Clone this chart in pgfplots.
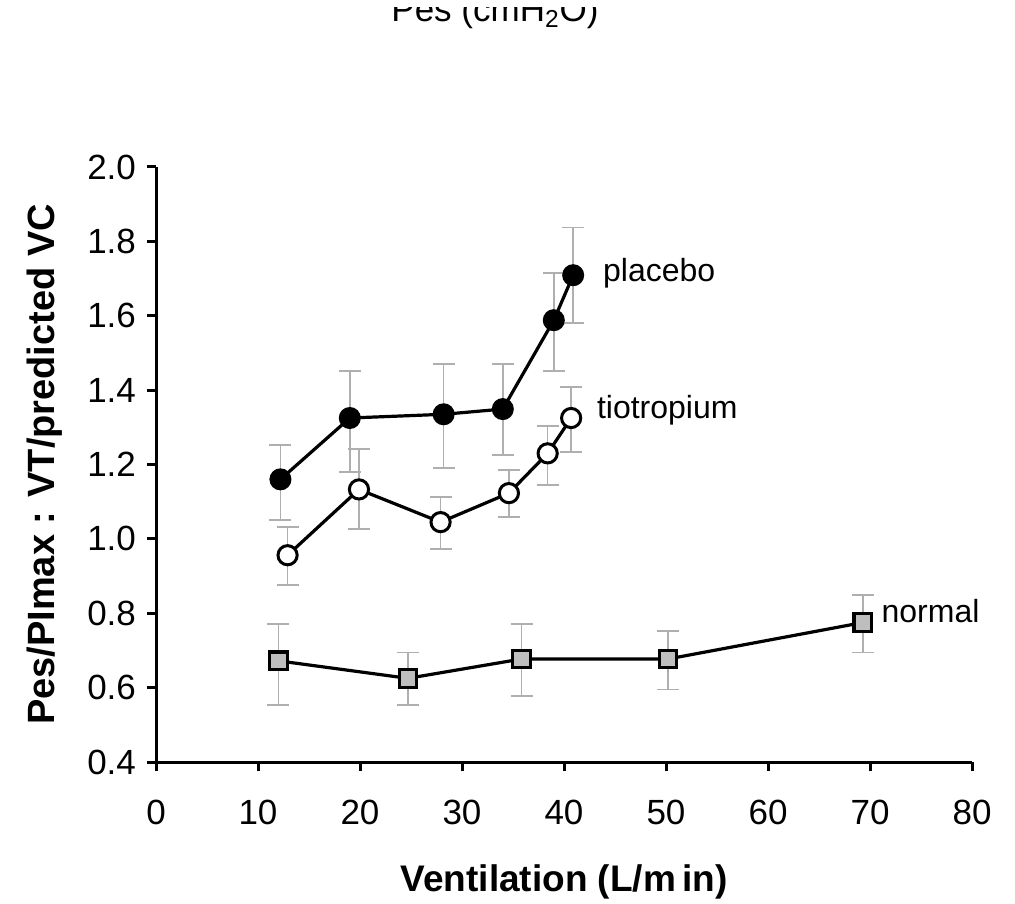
\documentclass[border=0pt]{standalone}
\usepackage{pgfplots}
\pgfplotsset{compat=1.18}
\usepackage{pgfplotstable}
\usepackage{fontspec}
\setmainfont{Liberation Sans}

% x: ventilation (L/min), y: mean ratio, ep/em: upper/lower error
\pgfplotstableread{
x     y      ep     em
12.2  1.160  0.092  0.110
19.0  1.325  0.126  0.145
28.2  1.335  0.135  0.145
34.0  1.349  0.121  0.124
39.0  1.588  0.127  0.136
40.9  1.709  0.128  0.128
}\placebo

\pgfplotstableread{
x     y      ep     em
12.9  0.956  0.076  0.080
19.9  1.133  0.108  0.107
27.9  1.045  0.067  0.072
34.6  1.123  0.062  0.064
38.4  1.230  0.073  0.085
40.7  1.325  0.083  0.092
}\tiotropium

\pgfplotstableread{
x     y      ep     em
12.0  0.672  0.099  0.119
24.7  0.625  0.069  0.072
35.85 0.677  0.094  0.100
50.2  0.677  0.076  0.082
69.3  0.775  0.074  0.081
}\normal

\definecolor{errgray}{RGB}{175,175,175}
\definecolor{boxgray}{RGB}{190,190,190}

\begin{document}
\begin{tikzpicture}
\useasboundingbox (-78pt,-70.5pt) rectangle (429.5pt,381pt);
\begin{axis}[
  at={(0,0)}, anchor=south west,
  scale only axis,
  width=408pt, height=297.5pt,
  xmin=0, xmax=80, ymin=0.4, ymax=2.0,
  xtick={0,10,...,80},
  ytick={0.4,0.6,...,2.0},
  axis x line*=bottom, axis y line*=left,
  hide obscured x ticks=false, hide obscured y ticks=false,
  axis line style={line width=1.5pt, -},
  tick align=outside,
  major tick length=4.5pt,
  tick style={line width=1.5pt, black},
  /pgf/number format/assume math mode=true,
  yticklabel style={/pgf/number format/fixed, /pgf/number format/fixed zerofill, /pgf/number format/precision=1},
  ticklabel style={font=\fontsize{17.5}{20}\selectfont},
  xticklabel style={yshift=-11pt},
  yticklabel style={xshift=-2pt},
  clip=false,
  error bars/y dir=both,
  error bars/y explicit,
  error bars/error bar style={errgray, line width=0.8pt},
  error bars/error mark options={rotate=90, mark size=5.5pt, errgray, line width=0.8pt},
]
% error bars first, so lines and markers sit on top
\addplot[draw=none, mark=none] table[x=x, y=y, y error plus=ep, y error minus=em] {\placebo};
\addplot[draw=none, mark=none] table[x=x, y=y, y error plus=ep, y error minus=em] {\tiotropium};
\addplot[draw=none, mark=none] table[x=x, y=y, y error plus=ep, y error minus=em] {\normal};

\addplot[black, line width=1.6pt, mark=*, mark size=5pt,
  mark options={fill=black, line width=1pt}] table[x=x, y=y] {\placebo};
\addplot[black, line width=1.6pt, mark=*, mark size=4.8pt,
  mark options={fill=white, line width=1.5pt}] table[x=x, y=y] {\tiotropium};
\addplot[black, line width=1.6pt, mark=square*, mark size=4.4pt,
  mark options={fill=boxgray, line width=1.6pt}] table[x=x, y=y] {\normal};

\node[anchor=west, inner sep=0pt, font=\fontsize{16}{19}\selectfont] at (axis cs:43.8,1.715) {placebo};
\node[anchor=west, inner sep=0pt, font=\fontsize{16}{19}\selectfont] at (axis cs:43.2,1.345) {tiotropium};
\node[anchor=west, inner sep=0pt, font=\fontsize{16}{19}\selectfont] at (axis cs:71.1,0.805) {normal};
\end{axis}
% axis titles
\node[rotate=90, font=\bfseries\fontsize{19}{22}\selectfont] at (-55.5pt,148.75pt) {Pes/PImax : VT/predicted VC};
\node[font=\bfseries\fontsize{18.5}{22}\selectfont] at (204pt,-60pt) {Ventilation (L/m\,in)};
% heading, its upper part cut off by the top edge
\begin{scope}
\clip (-78pt,300pt) rectangle (429.5pt,377pt);
\node[anchor=base, font=\fontsize{17.5}{20}\selectfont] at (169.5pt,370pt) {Pes (cmH\textsubscript{2}O)};
\end{scope}
\end{tikzpicture}
\end{document}
